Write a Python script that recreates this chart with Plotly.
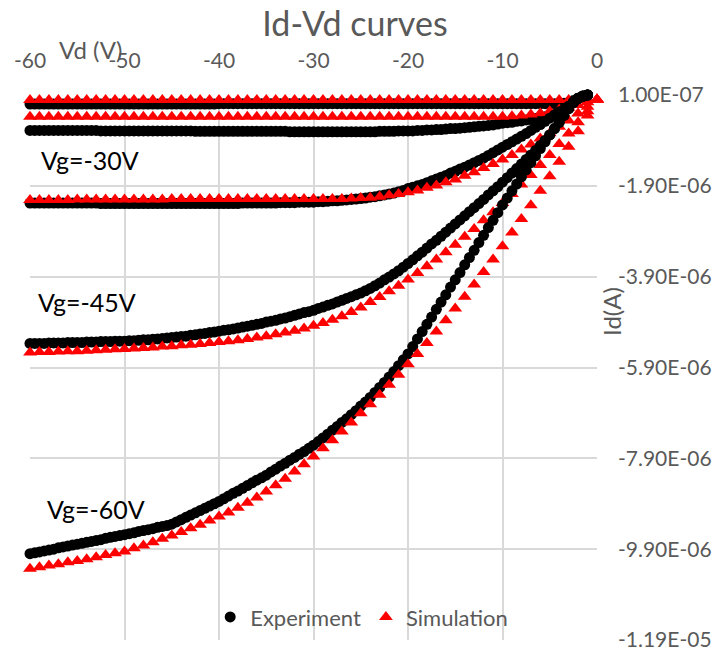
import plotly.graph_objects as go

# ---------------- data (currents in microampere) ----------------
vd_sim = [-60, -59, -58, -57, -56, -55, -54, -53, -52, -51,
          -50, -49, -48, -47, -46, -45, -44, -43, -42, -41,
          -40, -39, -38, -37, -36, -35, -34, -33, -32, -31,
          -30, -29, -28, -27, -26, -25, -24, -23, -22, -21,
          -20, -19, -18, -17, -16, -15, -14, -13, -12, -11,
          -10, -9, -8, -7, -6, -5, -4, -3, -2, -1, 0]

vd_exp = [-60, -59.5, -59, -58.5, -58, -57.5, -57, -56.5, -56, -55.5,
          -55, -54.5, -54, -53.5, -53, -52.5, -52, -51.5, -51, -50.5,
          -50, -49.5, -49, -48.5, -48, -47.5, -47, -46.5, -46, -45.5,
          -45, -44.5, -44, -43.5, -43, -42.5, -42, -41.5, -41, -40.5,
          -40, -39.5, -39, -38.5, -38, -37.5, -37, -36.5, -36, -35.5,
          -35, -34.5, -34, -33.5, -33, -32.5, -32, -31.5, -31, -30.5,
          -30, -29.5, -29, -28.5, -28, -27.5, -27, -26.5, -26, -25.5,
          -25, -24.5, -24, -23.5, -23, -22.5, -22, -21.5, -21, -20.5,
          -20, -19.5, -19, -18.5, -18, -17.5, -17, -16.5, -16, -15.5,
          -15, -14.5, -14, -13.5, -13, -12.5, -12, -11.5, -11, -10.5,
          -10, -9.5, -9, -8.5, -8, -7.5, -7, -6.5, -6, -5.5,
          -5, -4.5, -4, -3.5, -3, -2.5, -2, -1.5, -1, -0.5, 0]

exp_vg0 = [-0.10, -0.10, -0.10, -0.10, -0.10, -0.10, -0.10, -0.10, -0.10, -0.10,
           -0.10, -0.10, -0.10, -0.10, -0.10, -0.10, -0.10, -0.10, -0.10, -0.10,
           -0.10, -0.10, -0.10, -0.10, -0.10, -0.10, -0.10, -0.10, -0.10, -0.10,
           -0.10, -0.10, -0.10, -0.10, -0.10, -0.10, -0.10, -0.10, -0.10, -0.10,
           -0.09, -0.09, -0.09, -0.09, -0.09, -0.09, -0.09, -0.09, -0.09, -0.09,
           -0.09, -0.09, -0.09, -0.09, -0.09, -0.09, -0.09, -0.09, -0.09, -0.09,
           -0.09, -0.09, -0.09, -0.09, -0.09, -0.09, -0.09, -0.09, -0.09, -0.09,
           -0.09, -0.09, -0.09, -0.09, -0.09, -0.09, -0.09, -0.09, -0.09, -0.09,
           -0.09, -0.09, -0.09, -0.09, -0.09, -0.09, -0.09, -0.09, -0.09, -0.09,
           -0.09, -0.09, -0.09, -0.09, -0.09, -0.09, -0.09, -0.09, -0.09, -0.09,
           -0.09, -0.09, -0.09, -0.09, -0.09, -0.09, -0.09, -0.09, -0.09, -0.09,
           -0.09, -0.09, -0.09, -0.08, -0.06, -0.02, 0.03, 0.07, 0.10, 0.11, 0.12]

exp_vg15 = [-0.68, -0.68, -0.68, -0.68, -0.68, -0.68, -0.68, -0.68, -0.68, -0.68,
            -0.68, -0.68, -0.68, -0.68, -0.68, -0.69, -0.69, -0.69, -0.69, -0.69,
            -0.69, -0.69, -0.69, -0.69, -0.69, -0.69, -0.69, -0.69, -0.69, -0.69,
            -0.69, -0.69, -0.69, -0.69, -0.69, -0.70, -0.70, -0.70, -0.70, -0.70,
            -0.70, -0.70, -0.70, -0.70, -0.70, -0.70, -0.70, -0.70, -0.70, -0.70,
            -0.70, -0.70, -0.70, -0.70, -0.70, -0.71, -0.71, -0.71, -0.71, -0.71,
            -0.71, -0.71, -0.71, -0.71, -0.71, -0.71, -0.71, -0.71, -0.71, -0.71,
            -0.71, -0.71, -0.71, -0.71, -0.70, -0.70, -0.70, -0.70, -0.69, -0.69,
            -0.69, -0.69, -0.68, -0.68, -0.67, -0.67, -0.66, -0.66, -0.65, -0.64,
            -0.64, -0.63, -0.62, -0.61, -0.60, -0.59, -0.58, -0.57, -0.56, -0.54,
            -0.52, -0.51, -0.50, -0.48, -0.47, -0.45, -0.44, -0.42, -0.40, -0.38,
            -0.36, -0.33, -0.30, -0.24, -0.15, -0.05, 0.03, 0.08, 0.10, 0.11, 0.12]

exp_vg30 = [-2.28, -2.28, -2.28, -2.28, -2.28, -2.28, -2.28, -2.28, -2.28, -2.28,
            -2.28, -2.28, -2.28, -2.28, -2.28, -2.29, -2.29, -2.29, -2.29, -2.29,
            -2.29, -2.29, -2.29, -2.29, -2.29, -2.29, -2.29, -2.29, -2.29, -2.29,
            -2.29, -2.29, -2.29, -2.29, -2.29, -2.29, -2.29, -2.29, -2.29, -2.29,
            -2.29, -2.29, -2.29, -2.29, -2.29, -2.28, -2.28, -2.28, -2.28, -2.28,
            -2.28, -2.28, -2.28, -2.27, -2.27, -2.27, -2.27, -2.26, -2.26, -2.26,
            -2.26, -2.25, -2.25, -2.24, -2.23, -2.23, -2.22, -2.21, -2.20, -2.19,
            -2.18, -2.17, -2.15, -2.14, -2.12, -2.10, -2.08, -2.06, -2.03, -2.00,
            -1.96, -1.93, -1.90, -1.87, -1.83, -1.79, -1.75, -1.71, -1.67, -1.62,
            -1.58, -1.53, -1.49, -1.44, -1.39, -1.34, -1.29, -1.23, -1.17, -1.11,
            -1.05, -0.99, -0.93, -0.87, -0.81, -0.75, -0.68, -0.61, -0.55, -0.48,
            -0.41, -0.34, -0.27, -0.22, -0.15, -0.06, 0.03, 0.08, 0.10, 0.11, 0.12]

exp_vg45 = [-5.37, -5.37, -5.37, -5.37, -5.36, -5.36, -5.36, -5.36, -5.35, -5.35,
            -5.35, -5.35, -5.34, -5.34, -5.34, -5.33, -5.33, -5.33, -5.32, -5.32,
            -5.32, -5.31, -5.31, -5.30, -5.29, -5.29, -5.28, -5.27, -5.26, -5.25,
            -5.24, -5.23, -5.22, -5.21, -5.19, -5.18, -5.16, -5.15, -5.13, -5.12,
            -5.10, -5.08, -5.07, -5.05, -5.03, -5.01, -4.99, -4.97, -4.95, -4.93,
            -4.90, -4.88, -4.86, -4.83, -4.81, -4.78, -4.75, -4.72, -4.69, -4.67,
            -4.64, -4.60, -4.57, -4.53, -4.50, -4.46, -4.42, -4.38, -4.34, -4.30,
            -4.26, -4.21, -4.16, -4.10, -4.04, -3.97, -3.91, -3.84, -3.77, -3.69,
            -3.61, -3.53, -3.44, -3.36, -3.27, -3.18, -3.10, -3.01, -2.92, -2.83,
            -2.74, -2.65, -2.56, -2.47, -2.38, -2.29, -2.20, -2.10, -2.01, -1.92,
            -1.82, -1.72, -1.62, -1.52, -1.42, -1.32, -1.22, -1.12, -1.01, -0.90,
            -0.78, -0.64, -0.50, -0.35, -0.20, -0.07, 0.02, 0.07, 0.10, 0.11, 0.12]

exp_vg60 = [-10.00, -9.98, -9.96, -9.94, -9.92, -9.90, -9.87, -9.85, -9.83, -9.81,
            -9.79, -9.77, -9.75, -9.73, -9.71, -9.69, -9.66, -9.64, -9.62, -9.60,
            -9.58, -9.56, -9.54, -9.51, -9.49, -9.47, -9.45, -9.42, -9.40, -9.38,
            -9.35, -9.30, -9.25, -9.20, -9.15, -9.10, -9.05, -9.00, -8.95, -8.90,
            -8.85, -8.79, -8.73, -8.67, -8.62, -8.56, -8.50, -8.44, -8.38, -8.33,
            -8.27, -8.20, -8.14, -8.07, -8.01, -7.94, -7.88, -7.81, -7.75, -7.68,
            -7.61, -7.53, -7.45, -7.37, -7.28, -7.20, -7.11, -7.03, -6.94, -6.85,
            -6.75, -6.66, -6.56, -6.45, -6.34, -6.23, -6.11, -5.99, -5.86, -5.73,
            -5.60, -5.44, -5.27, -5.11, -4.95, -4.79, -4.62, -4.46, -4.30, -4.13,
            -3.97, -3.81, -3.64, -3.48, -3.32, -3.15, -2.99, -2.82, -2.66, -2.49,
            -2.32, -2.17, -2.01, -1.86, -1.70, -1.55, -1.39, -1.24, -1.08, -0.93,
            -0.78, -0.64, -0.50, -0.35, -0.20, -0.07, 0.02, 0.07, 0.10, 0.11, 0.12]

sim_vg0 = [-0.01, -0.01, -0.01, -0.01, -0.01, -0.01, -0.01, -0.01, -0.01, -0.01,
           -0.01, -0.01, -0.01, -0.01, -0.01, -0.01, -0.01, -0.01, -0.01, -0.01,
           -0.01, -0.01, -0.01, -0.01, -0.01, -0.01, -0.01, -0.01, -0.01, -0.01,
           -0.01, -0.01, -0.01, -0.01, -0.01, -0.01, -0.01, -0.01, -0.01, -0.01,
           -0.01, -0.01, -0.01, -0.01, -0.01, -0.01, -0.01, -0.01, -0.01, -0.01,
           -0.01, -0.01, -0.01, -0.01, -0.01, -0.01, -0.01, -0.01, -0.01, -0.01, 0.00]

sim_vg15 = [-0.38, -0.38, -0.38, -0.38, -0.38, -0.38, -0.38, -0.38, -0.38, -0.38,
            -0.38, -0.38, -0.38, -0.38, -0.38, -0.38, -0.38, -0.38, -0.38, -0.38,
            -0.38, -0.38, -0.38, -0.38, -0.38, -0.38, -0.38, -0.38, -0.38, -0.38,
            -0.38, -0.38, -0.38, -0.38, -0.38, -0.38, -0.38, -0.38, -0.38, -0.38,
            -0.38, -0.38, -0.38, -0.38, -0.38, -0.38, -0.38, -0.38, -0.38, -0.38,
            -0.38, -0.37, -0.35, -0.33, -0.30, -0.26, -0.22, -0.18, -0.12, -0.06, 0.00]

sim_vg30 = [-2.21, -2.21, -2.21, -2.21, -2.21, -2.20, -2.20, -2.20, -2.20, -2.20,
            -2.20, -2.20, -2.20, -2.20, -2.20, -2.19, -2.19, -2.19, -2.19, -2.19,
            -2.19, -2.19, -2.19, -2.19, -2.19, -2.19, -2.19, -2.19, -2.19, -2.19,
            -2.19, -2.19, -2.19, -2.19, -2.18, -2.17, -2.16, -2.14, -2.11, -2.08,
            -2.04, -2.00, -1.94, -1.89, -1.82, -1.76, -1.68, -1.60, -1.51, -1.42,
            -1.32, -1.22, -1.10, -0.99, -0.86, -0.74, -0.60, -0.46, -0.31, -0.16, 0.00]

sim_vg45 = [-5.57, -5.56, -5.56, -5.55, -5.54, -5.54, -5.53, -5.52, -5.51, -5.50,
            -5.49, -5.48, -5.47, -5.46, -5.44, -5.43, -5.41, -5.40, -5.38, -5.36,
            -5.34, -5.32, -5.30, -5.27, -5.24, -5.21, -5.17, -5.13, -5.09, -5.04,
            -4.98, -4.92, -4.85, -4.77, -4.68, -4.58, -4.46, -4.35, -4.22, -4.10,
            -3.96, -3.82, -3.67, -3.52, -3.36, -3.20, -3.02, -2.85, -2.66, -2.48,
            -2.28, -2.08, -1.87, -1.66, -1.44, -1.22, -0.98, -0.75, -0.50, -0.26, 0.00]

sim_vg60 = [-10.33, -10.30, -10.26, -10.23, -10.19, -10.16, -10.12, -10.08, -10.03, -9.99,
            -9.95, -9.88, -9.82, -9.75, -9.67, -9.60, -9.52, -9.44, -9.36, -9.27,
            -9.18, -9.09, -8.99, -8.88, -8.76, -8.63, -8.49, -8.35, -8.19, -8.03,
            -7.86, -7.68, -7.50, -7.31, -7.11, -6.91, -6.71, -6.50, -6.28, -6.06,
            -5.83, -5.60, -5.36, -5.11, -4.86, -4.60, -4.34, -4.07, -3.80, -3.52,
            -3.23, -2.93, -2.63, -2.33, -2.01, -1.69, -1.37, -1.04, -0.70, -0.35, 0.00]

curve_pairs = [(exp_vg0, sim_vg0), (exp_vg15, sim_vg15), (exp_vg30, sim_vg30),
               (exp_vg45, sim_vg45), (exp_vg60, sim_vg60)]

x_ticks = [-60, -50, -40, -30, -20, -10, 0]
x_tick_text = ["-60", "-50", "-40", "-30", "-20", "-10", "0"]
y_ticks = [1e-7, -1.9e-6, -3.9e-6, -5.9e-6, -7.9e-6, -9.9e-6, -1.19e-5]
y_tick_text = ["1.00E-07", "-1.90E-06", "-3.90E-06", "-5.90E-06",
               "-7.90E-06", "-9.90E-06", "-1.19E-05"]

curve_labels = ["Vg=-30V", "Vg=-45V", "Vg=-60V"]
label_x = [-53.7, -54.0, -53.0]
label_y = [-1.33e-6, -4.46e-6, -9.02e-6]

# ---------------- figure ----------------
GREY = "#595959"
GRID = "#d9d9d9"
FONT = "Lato"

fig = go.Figure()
for i, (ev, sv) in enumerate(curve_pairs):
    fig.add_trace(go.Scatter(
        x=vd_exp, y=[v * 1e-6 for v in ev], mode="markers",
        name="Experiment", legendgroup="exp", showlegend=(i == 0),
        marker=dict(symbol="circle", size=11, color="#000000", line=dict(width=0)),
        cliponaxis=False))
    fig.add_trace(go.Scatter(
        x=vd_sim, y=[v * 1e-6 for v in sv], mode="markers",
        name="Simulation", legendgroup="sim", showlegend=(i == 0),
        marker=dict(symbol="triangle-up", size=12, color="#FF0000", line=dict(width=0)),
        cliponaxis=False))

annotations = [
    dict(text="Vd (V)", xref="paper", yref="paper", x=0.106, y=1.084,
         xanchor="center", yanchor="middle",
         showarrow=False, font=dict(family=FONT, size=24, color=GREY)),
    dict(text="Id(A)", xref="paper", yref="paper", x=1.0265, y=0.602,
         xanchor="center", yanchor="middle",
         textangle=-90, showarrow=False, font=dict(family=FONT, size=24, color=GREY)),
]
for t, lx, ly in zip(curve_labels, label_x, label_y):
    annotations.append(dict(text=t, xref="x", yref="y", x=lx, y=ly, showarrow=False,
                            xanchor="center", yanchor="middle",
                            font=dict(family=FONT, size=25, color="#000000")))

fig.update_layout(
    width=715, height=653,
    margin=dict(l=30, r=118, t=95, b=13, autoexpand=False),
    paper_bgcolor="white", plot_bgcolor="white",
    font=dict(family=FONT, color=GREY),
    title=dict(text="Id-Vd curves", x=0.4965, xref="container", xanchor="center",
               y=0.963, yref="container", yanchor="middle",
               font=dict(family=FONT, size=34, color=GREY)),
    legend=dict(orientation="h", x=0.585, xanchor="center", y=0.042, yanchor="middle",
                bgcolor="rgba(0,0,0,0)", font=dict(family=FONT, size=22, color=GREY)),
    annotations=annotations,
)
fig.update_xaxes(range=[-60, 0], side="top", tickvals=x_ticks, ticktext=x_tick_text,
                 showgrid=True, gridcolor=GRID, gridwidth=1.5, zeroline=False,
                 showline=False, ticks="", ticklabelstandoff=22, automargin=False,
                 tickfont=dict(family=FONT, size=21, color=GREY))
fig.update_yaxes(range=[-1.19e-5, 1e-7], side="right", tickvals=y_ticks,
                 ticktext=y_tick_text, showgrid=True, gridcolor=GRID, gridwidth=1.5,
                 zeroline=False, showline=False, ticks="", ticklabelstandoff=20,
                 automargin=False,
                 tickfont=dict(family=FONT, size=21, color=GREY))

fig.write_html("out.html")
